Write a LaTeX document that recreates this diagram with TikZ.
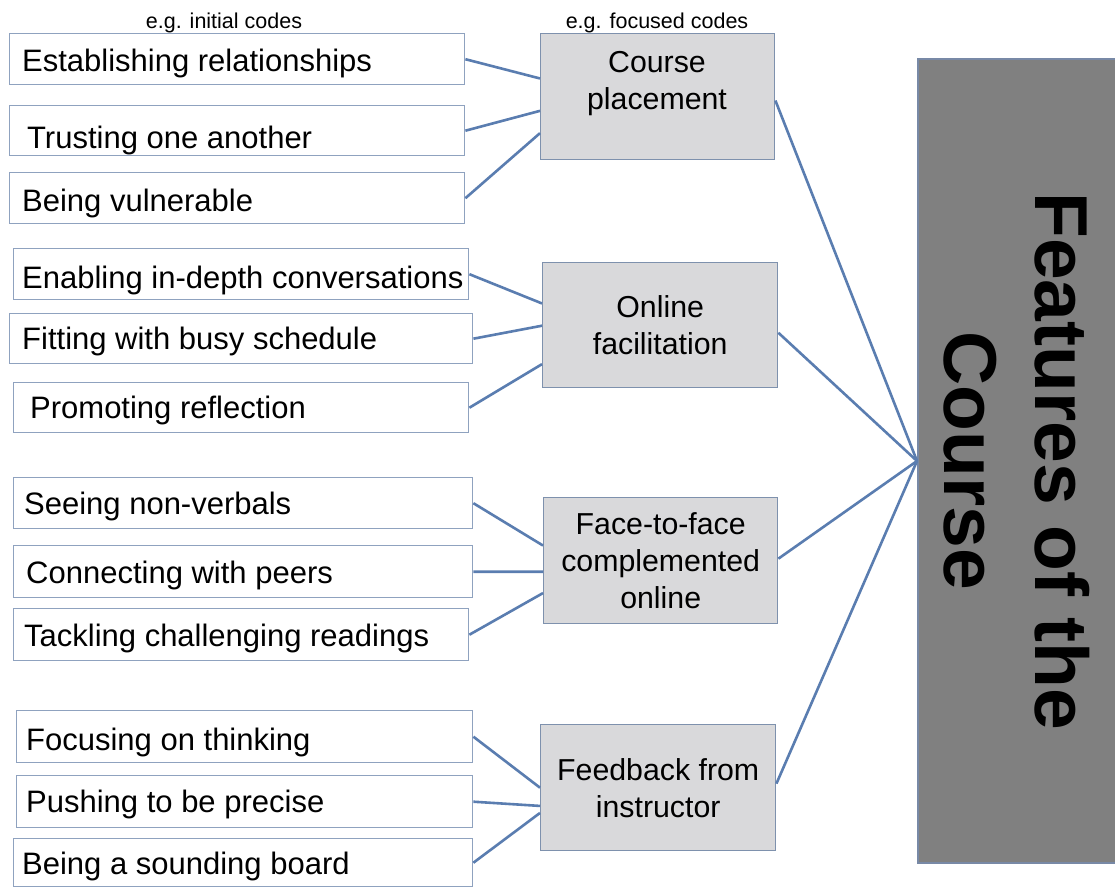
\documentclass[tikz,border=0pt]{standalone}
\usepackage{fontspec}
\setmainfont{Liberation Sans}
\usetikzlibrary{calc}
\definecolor{lborder}{HTML}{8FA2BF}
\definecolor{connc}{HTML}{5A7DB0}
\definecolor{mborder}{HTML}{7E91AD}
\definecolor{mfill}{HTML}{D9D9DB}
\definecolor{bigfill}{HTML}{808080}
\definecolor{bigborder}{HTML}{7889A6}
\begin{document}
\begin{tikzpicture}[x=1pt,y=-1pt,
  lbox/.style={draw=lborder, line width=1.4pt, fill=white, inner sep=0pt, anchor=north west},
  mbox/.style={draw=mborder, line width=1.4pt, fill=mfill, inner sep=0pt, anchor=north west, align=center, font=\fontsize{30.3}{37}\selectfont},
  ltext/.style={anchor=base west, inner sep=0pt, font=\fontsize{31}{36}\selectfont},
  mtext/.style={align=center, inner sep=0pt, font=\fontsize{30.3}{37}\selectfont},
  htext/.style={anchor=base, inner sep=0pt, font=\fontsize{21.5}{26}\selectfont},
  conn/.style={draw=connc, line width=2.6pt},
]
\useasboundingbox (0,0) rectangle (1115,888);
\fill[white] (0,0) rectangle (1115,888);

% headers
\node[htext] (h1) at (224,29) {e.g. initial codes};
\node[htext] (h2) at (657,29) {e.g. focused codes};

% left boxes
\node[lbox, minimum width=455pt, minimum height=51pt] (b1) at (9,33) {};
\node[lbox, minimum width=455pt, minimum height=50pt] (b2) at (9,105) {};
\node[lbox, minimum width=455pt, minimum height=51pt] (b3) at (9,172) {};
\node[lbox, minimum width=455pt, minimum height=51pt] (b4) at (13,248) {};
\node[lbox, minimum width=463pt, minimum height=50pt] (b5) at (9,313) {};
\node[lbox, minimum width=455pt, minimum height=50pt] (b6) at (13,382) {};
\node[lbox, minimum width=459pt, minimum height=51pt] (b7) at (13,477) {};
\node[lbox, minimum width=459pt, minimum height=52pt] (b8) at (13,545) {};
\node[lbox, minimum width=455pt, minimum height=52pt] (b9) at (13,608) {};
\node[lbox, minimum width=456pt, minimum height=52pt] (b10) at (16,710) {};
\node[lbox, minimum width=456pt, minimum height=52pt] (b11) at (16,775) {};
\node[lbox, minimum width=459pt, minimum height=48pt] (b12) at (13,838) {};

\node[ltext] (t1) at (22,72) {Establishing relationships};
\node[ltext] (t2) at (27,148) {Trusting one another};
\node[ltext] (t3) at (22,211) {Being vulnerable};
\node[ltext] (t4) at (22,288) {Enabling in-depth conversations};
\node[ltext] (t5) at (22,349) {Fitting with busy schedule};
\node[ltext] (t6) at (30,418) {Promoting reflection};
\node[ltext] (t7) at (24,514) {Seeing non-verbals};
\node[ltext] (t8) at (26,583) {Connecting with peers};
\node[ltext] (t9) at (24,646) {Tackling challenging readings};
\node[ltext] (t10) at (26,750) {Focusing on thinking};
\node[ltext] (t11) at (26,812) {Pushing to be precise};
\node[ltext] (t12) at (22,874) {Being a sounding board};

% middle boxes
\node[mbox, minimum width=234pt, minimum height=126pt] (cp) at (540,33) {};
\node[mtext] (cpt) at (657,84) {Course\\placement};
\node[mbox, minimum width=235pt, minimum height=125pt] (of) at (542,262) {Online\\facilitation};
\node[mbox, minimum width=234pt, minimum height=126pt] (ff) at (543,497) {Face-to-face\\complemented\\online};
\node[mbox, minimum width=235pt, minimum height=126pt] (fb) at (540,724) {Feedback from\\instructor};

% big box
\node[draw=bigborder, line width=2pt, fill=bigfill, inner sep=0pt, anchor=north west,
      minimum width=198pt, minimum height=804pt] (big) at (917,58) {};
\node[rotate=-90, align=center, inner sep=0pt,
      font=\bfseries\fontsize{75}{91}\selectfont] (bigt) at (big.center) {Features of the\\Course};

% connectors
\draw[conn] (b1.east) -- ($(cp.north west)!0.357!(cp.south west)$);
\draw[conn] (b2.east) -- ($(cp.north west)!0.611!(cp.south west)$);
\draw[conn] (b3.east) -- ($(cp.north west)!0.786!(cp.south west)$);
\draw[conn] (b4.east) -- ($(of.north west)!0.328!(of.south west)$);
\draw[conn] (b5.east) -- ($(of.north west)!0.504!(of.south west)$);
\draw[conn] (b6.east) -- ($(of.north west)!0.808!(of.south west)$);
\draw[conn] (b7.east) -- ($(ff.north west)!0.381!(ff.south west)$);
\draw[conn] (b8.east) -- ($(ff.north west)!0.587!(ff.south west)$);
\draw[conn] (b9.east) -- ($(ff.north west)!0.754!(ff.south west)$);
\draw[conn] (b10.east) -- ($(fb.north west)!0.5!(fb.south west)$);
\draw[conn] (b11.east) -- ($(fb.north west)!0.643!(fb.south west)$);
\draw[conn] (b12.east) -- ($(fb.north west)!0.698!(fb.south west)$);

\draw[conn] ($(cp.north east)!0.53!(cp.south east)$) -- (big.west);
\draw[conn] ($(of.north east)!0.56!(of.south east)$) -- (big.west);
\draw[conn] ($(ff.north east)!0.484!(ff.south east)$) -- (big.west);
\draw[conn] ($(fb.north east)!0.468!(fb.south east)$) -- (big.west);
\end{tikzpicture}
\end{document}
